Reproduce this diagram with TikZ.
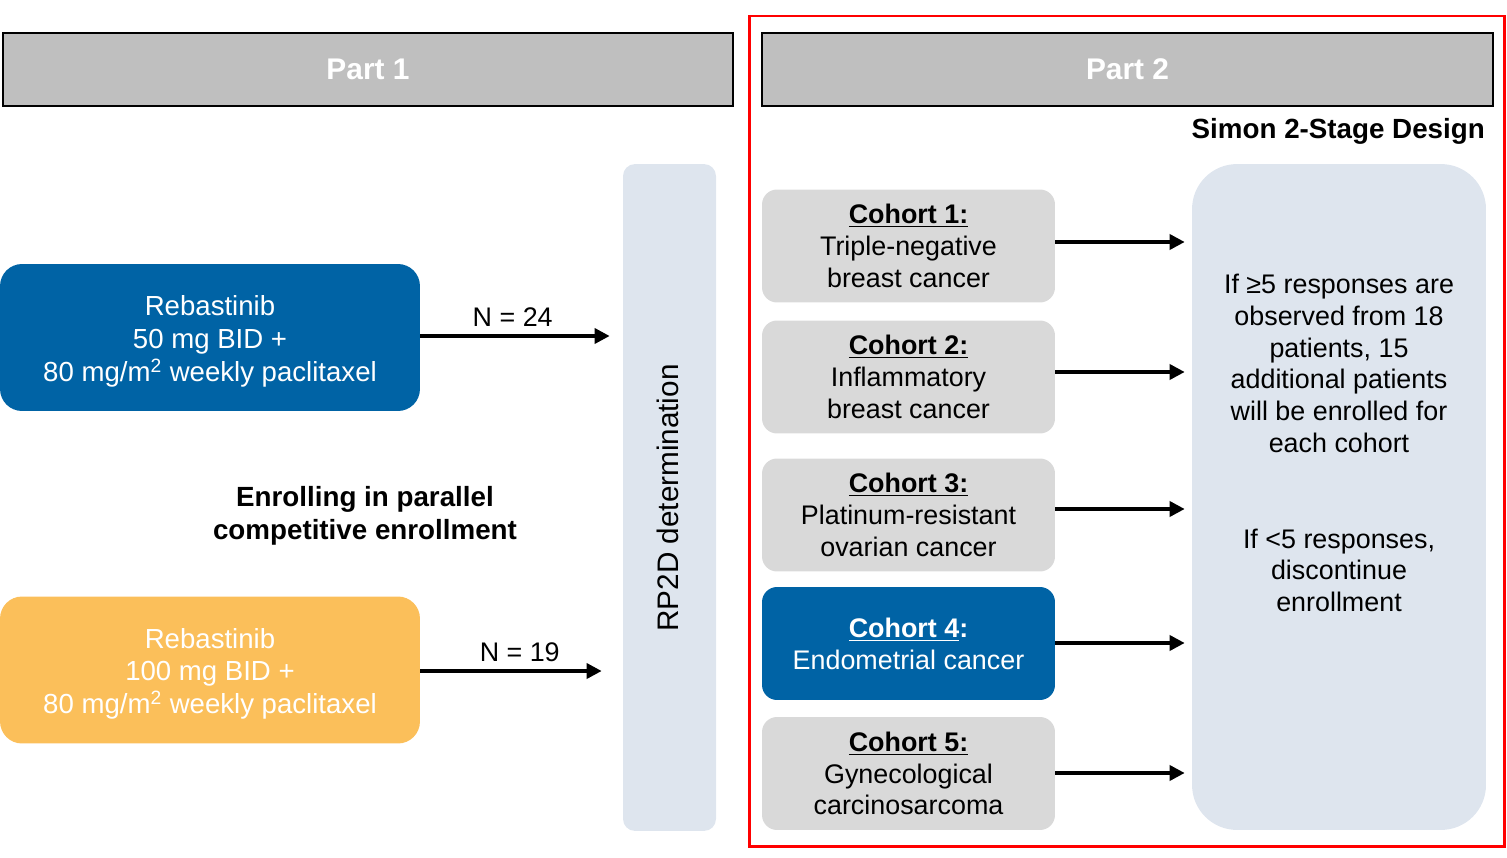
\documentclass[tikz,border=0pt]{standalone}
\usepackage{fontspec}
\setmainfont{Liberation Sans}
\usepackage{xcolor}
\usetikzlibrary{arrows.meta}
\usetikzlibrary{positioning}
\definecolor{headgrey}{HTML}{BFBFBF}
\definecolor{cohortgrey}{HTML}{D9D9D9}
\definecolor{dosblue}{HTML}{0063A5}
\definecolor{dosyellow}{HTML}{FBBF5A}
\definecolor{paleblue}{HTML}{DEE5EE}
\tikzstyle{header} = [draw=black, line width=1.3pt, fill=headgrey, text=white, font=\fontsize{17}{20}\selectfont\bfseries, minimum width=14.6cm, minimum height=1.46cm]
\tikzstyle{dose} = [rounded corners=0.44cm, text=white, align=center, minimum width=8.4cm, minimum height=2.94cm, font=\fontsize{15.7}{18.7}\selectfont]
\tikzstyle{cohort} = [rounded corners=0.3cm, fill=cohortgrey, align=center, minimum width=5.86cm, minimum height=2.26cm, font=\fontsize{15.3}{18.1}\selectfont]
\tikzstyle{panel} = [fill=paleblue, minimum width=5.88cm, minimum height=13.32cm]
\tikzstyle{flow} = [-{Triangle[length=0.3cm, width=0.3cm]}, line width=2pt]

\begin{document}
\begin{tikzpicture}[x=0.02cm, y=-0.02cm, font=\fontsize{15.3}{18.1}\selectfont]

  \useasboundingbox (0,0) rectangle (1507,858);

  % Part 2 frame
  \draw[red, line width=1.7pt] (749,16) rectangle (1504,846);

  % Headers
  \node[header] (part1) at (368,69.5) {Part 1};
  \node[header, minimum width=14.62cm] (part2) at (1127.5,69.5) {Part 2};
  \node[font=\fontsize{15.8}{18}\selectfont\bfseries, anchor=east] (simon) at (1491,131) {Simon 2-Stage Design};

  % Part 1
  \node[dose, fill=dosblue] (reb1) at (210,337.5) {\\[-3pt]Rebastinib\\50 mg BID +\\80 mg/m\textsuperscript{2} weekly paclitaxel};
  \node[dose, fill=dosyellow] (reb2) at (210,670) {\\[-3pt]Rebastinib\\100 mg BID +\\80 mg/m\textsuperscript{2} weekly paclitaxel};
  \node[align=center, font=\fontsize{15.8}{19}\selectfont\bfseries] (parallel) at (365,516) {Enrolling in parallel\\competitive enrollment};

  \node[rounded corners=0.24cm, fill=paleblue, minimum width=1.86cm, minimum height=13.34cm] (rp2d) at (669.5,497.5) {};
  \node[rotate=90, font=\fontsize{16.9}{19}\selectfont] (rp2dtxt) at (668,498) {RP2D determination};

  \draw[flow, shorten >=0.26cm] (reb1.east |- 0,336) -- (rp2d.west |- 0,336) node[midway, above=1pt, xshift=-5pt] {N = 24};
  \draw[flow, shorten >=0.42cm] (reb2.east |- 0,671) -- (rp2d.west |- 0,671) node[midway, above=1pt, xshift=-1pt] {N = 19};

  % Part 2
  \node[cohort] (c1) at (908.5,246) {\underline{\textbf{Cohort 1:}}\\Triple-negative\\breast cancer};
  \node[cohort] (c2) at (908.5,377) {\underline{\textbf{Cohort 2:}}\\Inflammatory\\breast cancer};
  \node[cohort] (c3) at (908.5,515) {\underline{\textbf{Cohort 3:}}\\Platinum-resistant\\ovarian cancer};
  \node[cohort, fill=dosblue, text=white] (c4) at (908.5,643.5) {\underline{\textbf{Cohort 4}}\textbf{:}\\Endometrial cancer};
  \node[cohort] (c5) at (908.5,773.5) {\underline{\textbf{Cohort 5:}}\\Gynecological\\carcinosarcoma};

  \node[panel, rounded corners=0.9cm] (stage) at (1339,497) {};
  \node[align=center] (stagetxt) at (1339,443) {If ≥5 responses are\\observed from 18\\patients, 15\\additional patients\\will be enrolled for\\each cohort\\[18.1pt]\\If <5 responses,\\discontinue\\enrollment};

  \foreach \c/\y in {c1/242, c2/372, c3/509, c4/643, c5/773} {
    \draw[flow, shorten >=0.14cm] (\c.east |- 0,\y) -- (stage.west |- 0,\y);
  }

\end{tikzpicture}
\end{document}
